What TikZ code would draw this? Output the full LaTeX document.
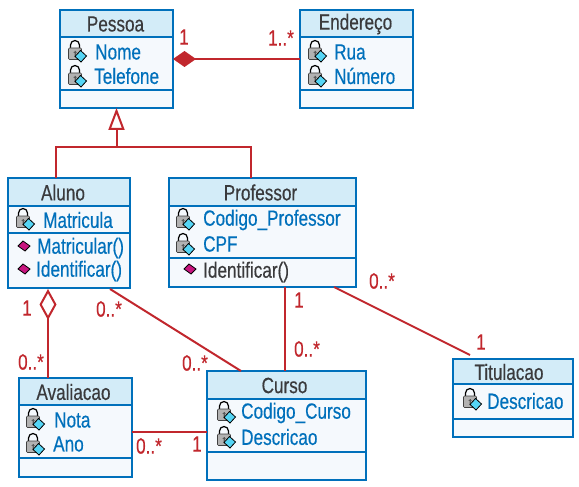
\documentclass[tikz,border=0pt]{standalone}
\usepackage{fontspec}
\setmainfont[FakeStretch=0.78,FakeBold=0.4]{Liberation Sans}
\usetikzlibrary{arrows.meta,calc}
\definecolor{umlblue}{HTML}{0070BB}
\definecolor{umlred}{HTML}{C1272D}
\definecolor{umlhead}{HTML}{D3ECF8}
\definecolor{umlbody}{HTML}{F5F9FD}
\definecolor{umlpink}{HTML}{C8157F}
\definecolor{umlcyan}{HTML}{55D5F5}
\definecolor{umldark}{HTML}{3A3A3C}
\tikzset{
  x=1pt,y=-1pt,
  classbox/.style={draw=umlblue,line width=2pt,fill=umlbody,inner sep=0,outer sep=0,anchor=north west},
  headbox/.style={draw=umlblue,line width=2pt,fill=umlhead,inner sep=0,outer sep=0,anchor=north west},
  titletext/.style={text=umldark,font=\fontsize{22}{22}\selectfont,inner sep=0},
  attrtext/.style={text=umlblue,font=\fontsize{22}{22}\selectfont,inner sep=0,anchor=west},
  multtext/.style={text=umlred,font=\fontsize{22}{22}\selectfont,inner sep=0},
  assoc/.style={draw=umlred,line width=2pt},
  sepline/.style={draw=umlblue,line width=2pt},
  lockicon/.pic={
    \draw[black,line width=1.2pt] (-4.5,-1) -- (-4.5,-5) arc[start angle=180,end angle=360,radius=4.5] -- (4.5,-1);
    \fill[gray!60,draw=black!75,line width=.6pt,rounded corners=1pt] (-6.5,-2) rectangle (6.5,9.5);
    \fill[black!65] (-.4,1) rectangle (.8,6) (-1.5,2) rectangle (1.5,2.8);
    \draw[fill=umlcyan,draw=black,line width=.8pt] (5.5,0.5) -- (11.5,6) -- (6,12) -- (0,6.5) -- cycle;
  },
  methodicon/.pic={
    \draw[fill=umlpink,draw=black,line width=.8pt] (-6,0) -- (-1,-5) -- (6,0) -- (1,5) -- cycle;
  },
}
\newcommand{\umlclass}[9]{% name, x1,y1,x2,y2, yhead, ysep, title, title shift
  \node[classbox,minimum width=#4pt-#2pt,minimum height=#5pt-#3pt] (#1) at (#2,#3) {};
  \node[headbox,minimum width=#4pt-#2pt,minimum height=#6pt-#3pt] (#1head) at (#2,#3) {};
  \node[titletext] (#1title) at ($(#1head.center)+(#9,0.5)$) {#8};
  \draw[sepline] (#2,#7) -- (#4,#7);
}
\begin{document}
\begin{tikzpicture}
\useasboundingbox (0,0) rectangle (579,487);
\umlclass{pessoa}{60}{10}{173}{108}{37}{90}{Pessoa}{-1}
\umlclass{endereco}{300}{10}{413}{108}{37}{90}{Endereço}{-1}
\umlclass{aluno}{8}{178}{130}{288}{206}{233}{Aluno}{-6}
\umlclass{professor}{169}{178}{356}{287}{206}{258}{Professor}{-2}
\umlclass{avaliacao}{19}{378}{132}{477}{405}{458}{Avaliacao}{-2}
\umlclass{curso}{207}{371}{366}{480}{399}{452}{Curso}{-2}
\umlclass{titulacao}{453}{359}{573}{437}{384}{419}{Titulacao}{-4}
% attributes
\pic at (75,50) {lockicon}; \node[attrtext] (a1) at (95,52) {Nome};
\pic at (75,75) {lockicon}; \node[attrtext] (a2) at (94,76) {Telefone};
\pic at (315,50) {lockicon}; \node[attrtext] (a3) at (334,52) {Rua};
\pic at (315,75) {lockicon}; \node[attrtext] (a4) at (334,76) {Número};
\pic at (23,218) {lockicon}; \node[attrtext] (a5) at (43,220) {Matricula};
\pic at (24,246) {methodicon}; \node[attrtext] (a6) at (37,248) {Matricular()};
\pic at (24,269) {methodicon}; \node[attrtext] (a7) at (36,271) {Identificar()};
\pic at (183,218) {lockicon}; \node[attrtext] (a8) at (203,220) {Codigo\_Professor};
\pic at (183,243) {lockicon}; \node[attrtext] (a9) at (203,244) {CPF};
\pic at (190,269) {methodicon}; \node[attrtext,text=umldark] (a10) at (203,272) {Identificar()};
\pic at (33,418) {lockicon}; \node[attrtext] (a11) at (54,420) {Nota};
\pic at (33,443) {lockicon}; \node[attrtext] (a12) at (53,444) {Ano};
\pic at (224,411) {lockicon}; \node[attrtext] (a13) at (241,413) {Codigo\_Curso};
\pic at (224,436) {lockicon}; \node[attrtext] (a14) at (241,437) {Descricao};
\pic at (470,398) {lockicon}; \node[attrtext] (a15) at (487,401) {Descricao};
% connectors
\draw[assoc,{Diamond[length=23pt,width=16pt,fill=umlred]}-] (pessoa.east) -- (endereco.west);
\coordinate (genjoin) at ($(pessoa.south)+(0,39)$);
\draw[assoc,{Triangle[open,length=22pt,width=16pt,fill=white]}-] (pessoa.south) -- (genjoin);
\draw[assoc] ($(aluno.north west)+(48,0)$) |- (genjoin) -| ($(professor.north west)+(82,0)$);
\coordinate (agg) at ($(aluno.south west)+(40,1)$);
\draw[assoc,{Diamond[open,length=31pt,width=17pt,fill=white]}-] (agg) -- (agg |- avaliacao.north);
\draw[assoc] ($(aluno.south west)+(102,1)$) -- ($(curso.north west)+(34,0)$);
\draw[assoc] ($(professor.south west)+(116,0)$) -- ($(curso.north west)+(78,0)$);
\draw[assoc] ($(professor.south west)+(165,0)$) -- ($(titulacao.north west)+(17,-4)$);
\draw[assoc] ($(avaliacao.north east)+(0,54)$) -- ($(curso.north west)+(0,61)$);
% multiplicities
\node[multtext] (m1) at (184,37) {1};
\node[multtext] (m2) at (281,38) {1..*};
\node[multtext] (m3) at (27,308) {1};
\node[multtext] (m4) at (109,309) {0..*};
\node[multtext] (m5) at (31,362) {0..*};
\node[multtext] (m6) at (195,363) {0..*};
\node[multtext] (m7) at (299,300) {1};
\node[multtext] (m8) at (307,349) {0..*};
\node[multtext] (m9) at (382,281) {0..*};
\node[multtext] (m10) at (481,342) {1};
\node[multtext] (m11) at (149,446) {0..*};
\node[multtext] (m12) at (197,444) {1};
\end{tikzpicture}
\end{document}
